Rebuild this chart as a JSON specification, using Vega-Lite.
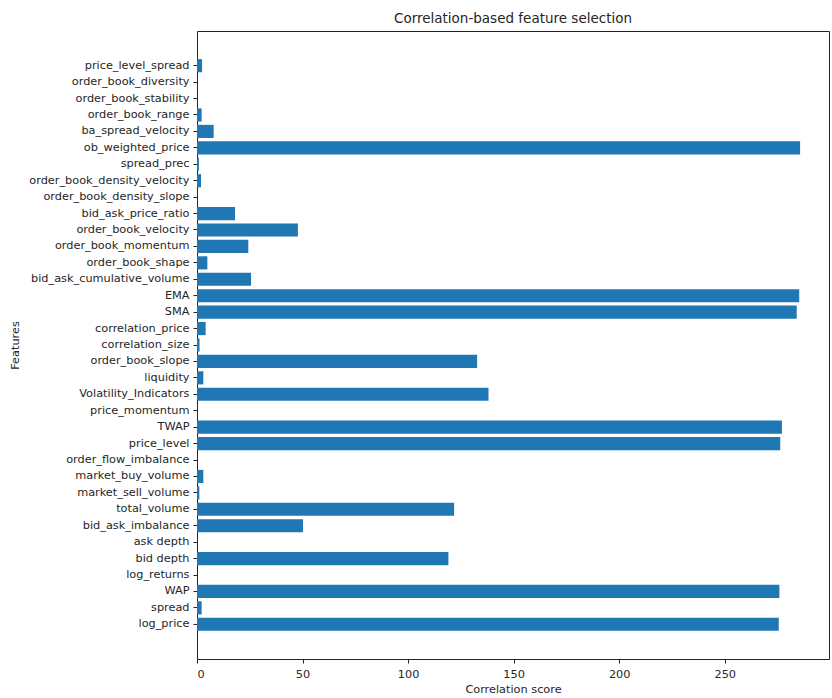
{
  "$schema": "https://vega.github.io/schema/vega-lite/v6.json",
  "width": 632,
  "height": 628,
  "autosize": {"type": "none"},
  "padding": {"left": 197, "top": 31, "right": 3, "bottom": 39},
  "background": "#ffffff",
  "title": {
    "text": "Correlation-based feature selection",
    "font": "DejaVu Sans",
    "fontSize": 13.5,
    "fontWeight": "normal",
    "color": "#262626",
    "offset": 6,
    "anchor": "middle"
  },
  "config": {
    "view": {"stroke": "#222222", "strokeWidth": 1},
    "axis": {
      "labelFont": "DejaVu Sans",
      "titleFont": "DejaVu Sans",
      "labelFontSize": 11.3,
      "titleFontSize": 11.3,
      "titleFontWeight": "normal",
      "labelColor": "#262626",
      "titleColor": "#262626",
      "tickColor": "#222222",
      "domainColor": "#222222",
      "tickSize": 4,
      "grid": false
    }
  },
  "data": {
    "values": [
      {"feature": "log_price", "score": 275.6},
      {"feature": "spread", "score": 2.2},
      {"feature": "WAP", "score": 275.9},
      {"feature": "log_returns", "score": 0.05},
      {"feature": "bid depth", "score": 119.1},
      {"feature": "ask depth", "score": 0.05},
      {"feature": "bid_ask_imbalance", "score": 50.2},
      {"feature": "total_volume", "score": 121.8},
      {"feature": "market_sell_volume", "score": 1.1},
      {"feature": "market_buy_volume", "score": 3.0},
      {"feature": "order_flow_imbalance", "score": 0.05},
      {"feature": "price_level", "score": 276.3},
      {"feature": "TWAP", "score": 277.1},
      {"feature": "price_momentum", "score": 0.05},
      {"feature": "Volatility_Indicators", "score": 138.1},
      {"feature": "liquidity", "score": 3.0},
      {"feature": "order_book_slope", "score": 132.7},
      {"feature": "correlation_size", "score": 1.2},
      {"feature": "correlation_price", "score": 4.1},
      {"feature": "SMA", "score": 284.1},
      {"feature": "EMA", "score": 285.3},
      {"feature": "bid_ask_cumulative_volume", "score": 25.6},
      {"feature": "order_book_shape", "score": 4.9},
      {"feature": "order_book_momentum", "score": 24.3},
      {"feature": "order_book_velocity", "score": 47.8},
      {"feature": "bid_ask_price_ratio", "score": 18.0},
      {"feature": "order_book_density_slope", "score": 0.05},
      {"feature": "order_book_density_velocity", "score": 1.9},
      {"feature": "spread_prec", "score": 0.9},
      {"feature": "ob_weighted_price", "score": 285.7},
      {"feature": "ba_spread_velocity", "score": 7.9},
      {"feature": "order_book_range", "score": 2.2},
      {"feature": "order_book_stability", "score": 0.05},
      {"feature": "order_book_diversity", "score": 0.05},
      {"feature": "price_level_spread", "score": 2.4}
    ]
  },
  "mark": {"type": "bar", "color": "#1f77b4"},
  "encoding": {
    "y": {
      "field": "feature",
      "type": "nominal",
      "sort": null,
      "title": "Features",
      "scale": {
        "domain": ["_pad_top", "price_level_spread", "order_book_diversity", "order_book_stability", "order_book_range", "ba_spread_velocity", "ob_weighted_price", "spread_prec", "order_book_density_velocity", "order_book_density_slope", "bid_ask_price_ratio", "order_book_velocity", "order_book_momentum", "order_book_shape", "bid_ask_cumulative_volume", "EMA", "SMA", "correlation_price", "correlation_size", "order_book_slope", "liquidity", "Volatility_Indicators", "price_momentum", "TWAP", "price_level", "order_flow_imbalance", "market_buy_volume", "market_sell_volume", "total_volume", "bid_ask_imbalance", "ask depth", "bid depth", "log_returns", "WAP", "spread", "log_price", "_pad_bottom"],
        "paddingInner": 0.2,
        "paddingOuter": 0.712
      },
      "axis": {
        "values": ["price_level_spread", "order_book_diversity", "order_book_stability", "order_book_range", "ba_spread_velocity", "ob_weighted_price", "spread_prec", "order_book_density_velocity", "order_book_density_slope", "bid_ask_price_ratio", "order_book_velocity", "order_book_momentum", "order_book_shape", "bid_ask_cumulative_volume", "EMA", "SMA", "correlation_price", "correlation_size", "order_book_slope", "liquidity", "Volatility_Indicators", "price_momentum", "TWAP", "price_level", "order_flow_imbalance", "market_buy_volume", "market_sell_volume", "total_volume", "bid_ask_imbalance", "ask depth", "bid depth", "log_returns", "WAP", "spread", "log_price"],
        "labelPadding": 4,
        "titlePadding": 8,
        "domain": false
      }
    },
    "x": {
      "field": "score",
      "type": "quantitative",
      "title": "Correlation score",
      "scale": {"domain": [0, 299.4], "nice": false, "zero": true},
      "axis": {"values": [0, 50, 100, 150, 200, 250], "labelPadding": 5, "titlePadding": 4, "domain": false}
    }
  }
}
